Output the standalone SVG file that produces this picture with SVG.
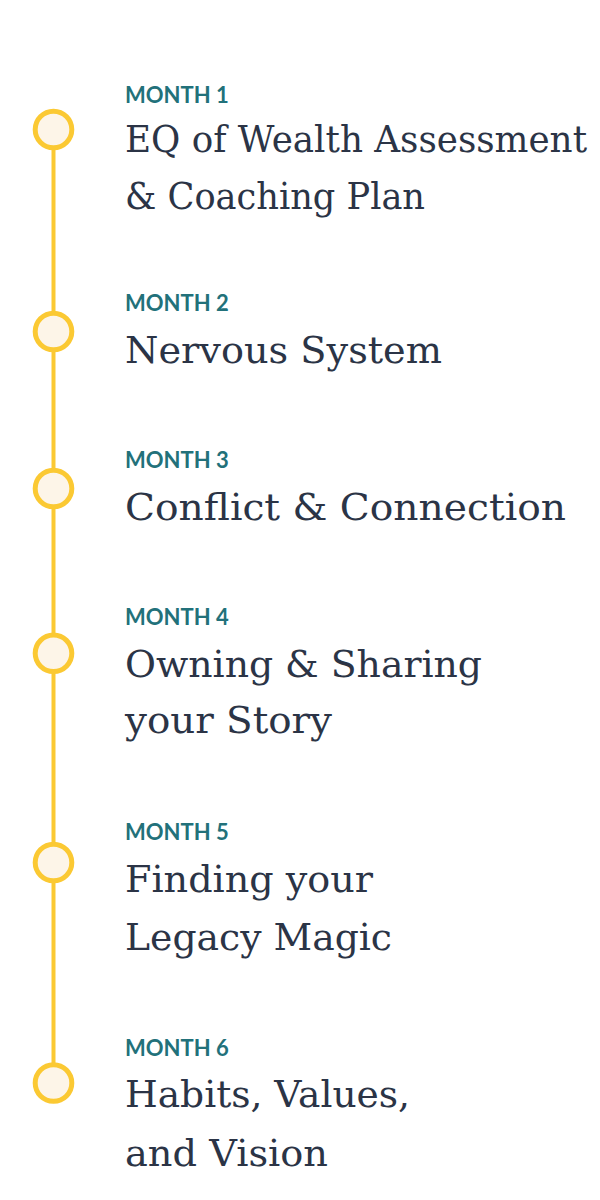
<svg xmlns="http://www.w3.org/2000/svg" width="600" height="1200" viewBox="0 0 600 1200">
<style>
.bg{fill:#ffffff}
.line{stroke:#FBC933;stroke-width:4;fill:none}
.dot{fill:#FDF5E8;stroke:#FBC933;stroke-width:5}
.month{font-family:Lato,"Noto Sans",sans-serif;font-weight:700;font-size:22px;fill:#22717A}
.title{font-family:"DejaVu Serif","Liberation Serif",serif;font-size:38px;fill:#2B3446}
</style>
<rect class="bg" x="0" y="0" width="600" height="1200"/>
<g id="connectors">
<line class="line" x1="53.5" y1="129.5" x2="53.5" y2="1083"/>
</g>
<g id="month1">
<circle class="dot" cx="53.5" cy="129.5" r="18.3"/>
<text class="month" x="125" y="103">MONTH 1</text>
<text class="title" x="125" y="152" textLength="462" lengthAdjust="spacingAndGlyphs">EQ of Wealth Assessment</text>
<text class="title" x="125" y="208.5" textLength="300" lengthAdjust="spacingAndGlyphs">&amp; Coaching Plan</text>
</g>
<g id="month2">
<circle class="dot" cx="53.5" cy="331.5" r="18.3"/>
<text class="month" x="125" y="310.5">MONTH 2</text>
<text class="title" x="125" y="363" textLength="317" lengthAdjust="spacingAndGlyphs">Nervous System</text>
</g>
<g id="month3">
<circle class="dot" cx="53.5" cy="488.5" r="18.3"/>
<text class="month" x="125" y="467.5">MONTH 3</text>
<text class="title" x="125" y="520" textLength="441" lengthAdjust="spacingAndGlyphs">Conflict &amp; Connection</text>
</g>
<g id="month4">
<circle class="dot" cx="53.5" cy="653.3" r="18.3"/>
<text class="month" x="125" y="625">MONTH 4</text>
<text class="title" x="125" y="676.5" textLength="357" lengthAdjust="spacingAndGlyphs">Owning &amp; Sharing</text>
<text class="title" x="125" y="733" textLength="207" lengthAdjust="spacingAndGlyphs">your Story</text>
</g>
<g id="month5">
<circle class="dot" cx="53.5" cy="862.5" r="18.3"/>
<text class="month" x="125" y="840">MONTH 5</text>
<text class="title" x="125" y="892" textLength="248" lengthAdjust="spacingAndGlyphs">Finding your</text>
<text class="title" x="125" y="949.5" textLength="267" lengthAdjust="spacingAndGlyphs">Legacy Magic</text>
</g>
<g id="month6">
<circle class="dot" cx="53.5" cy="1083" r="18.3"/>
<text class="month" x="125" y="1056">MONTH 6</text>
<text class="title" x="125" y="1107" textLength="285" lengthAdjust="spacingAndGlyphs">Habits, Values,</text>
<text class="title" x="125" y="1166" textLength="203" lengthAdjust="spacingAndGlyphs">and Vision</text>
</g>
</svg>
